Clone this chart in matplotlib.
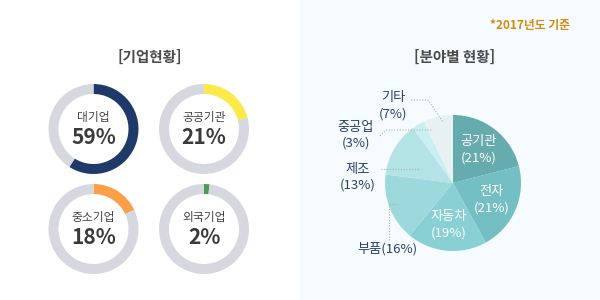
import matplotlib
matplotlib.use('Agg')
import matplotlib.pyplot as plt

plt.rcParams['font.family'] = ['Noto Sans CJK KR', 'DejaVu Sans']

# company share (ring charts)
comp_names = ['대기업', '공공기관', '중소기업', '외국기업']
comp_values = [59, 21, 18, 2]
comp_colors = ['#1f3a68', '#fde94a', '#fd9f49', '#4a9a5a']

# sector share (pie)
sect_names = ['공기관', '전자', '자동차', '부품', '제조', '중공업', '기타']
sect_values = [21, 21, 19, 16, 13, 3, 7]
sect_colors = ['#66abae', '#74bfc3', '#88d0d3', '#9dd9dc', '#b4e3e6', '#caeff1', '#e7f1f2']
inside = 3  # first three labels drawn inside the slices

fig = plt.figure(figsize=(6, 3), dpi=100)
ax = fig.add_axes([0, 0, 1, 1])
ax.axvspan(300, 600, color='#f5fbfe', zorder=0)

# ring charts, pixel positions (y up)
centers = [(93.5, 171), (204, 171), (93.5, 71), (204, 71)]
for (cx, cy), name, v, c in zip(centers, comp_names, comp_values, comp_colors):
    ax.pie([v, 100 - v], colors=[c, '#d5d9df'], startangle=90, counterclock=False,
           center=(cx, cy), radius=45, wedgeprops=dict(width=10, linewidth=0))
    ax.text(cx, cy + 11, name, ha='center', va='center', fontsize=8.5, color='#444444')
    ax.text(cx, cy - 9, f'{v}%', ha='center', va='center', fontsize=15,
            fontweight='bold', color='#3a3a3a')

ax.text(150, 243, '[기업현황]', ha='center', va='center', fontsize=10.5,
        fontweight='bold', color='#4a4a4a')
ax.text(455, 243, '[분야별 현황]', ha='center', va='center', fontsize=10.5,
        fontweight='bold', color='#4a4a4a')
ax.text(530, 274, '*2017년도 기준', ha='center', va='center', fontsize=8.5,
        fontweight='bold', color='#d98a0c')

labels = [f'{n}\n({v}%)' if i < inside else '' for i, (n, v) in enumerate(zip(sect_names, sect_values))]
_, texts = ax.pie(sect_values, colors=sect_colors, startangle=90, counterclock=False,
                  center=(453, 117), radius=68, labels=labels, labeldistance=0.62,
                  wedgeprops=dict(linewidth=0),
                  textprops=dict(color='white', fontsize=9.5, ha='center', va='center',
                                 linespacing=1.3))

navy = '#2d3e6a'
ax.text(393, 194, '기타\n(7%)', ha='center', va='center', fontsize=9.5, color=navy, linespacing=1.3)
ax.text(356, 165, '중공업\n(3%)', ha='center', va='center', fontsize=9.5, color=navy, linespacing=1.3)
ax.text(358, 123, '제조\n(13%)', ha='center', va='center', fontsize=9.5, color=navy, linespacing=1.3)
ax.text(387, 51, '부품(16%)', ha='center', va='center', fontsize=9.5, color=navy)

lk = dict(color='#a9b0b8', linewidth=0.8, linestyle=(0, (1, 1.5)))
ax.plot([411, 428, 443], [200, 200, 178], **lk)
ax.plot([380, 386, 432], [164, 170, 170], **lk)
ax.plot([381, 420], [131, 131], **lk)
ax.plot([389, 389, 398], [60, 96, 96], **lk)

ax.set_xlim(0, 600)
ax.set_ylim(0, 300)
ax.set_aspect('auto')
ax.axis('off')
fig.savefig('out.png', dpi=100)
